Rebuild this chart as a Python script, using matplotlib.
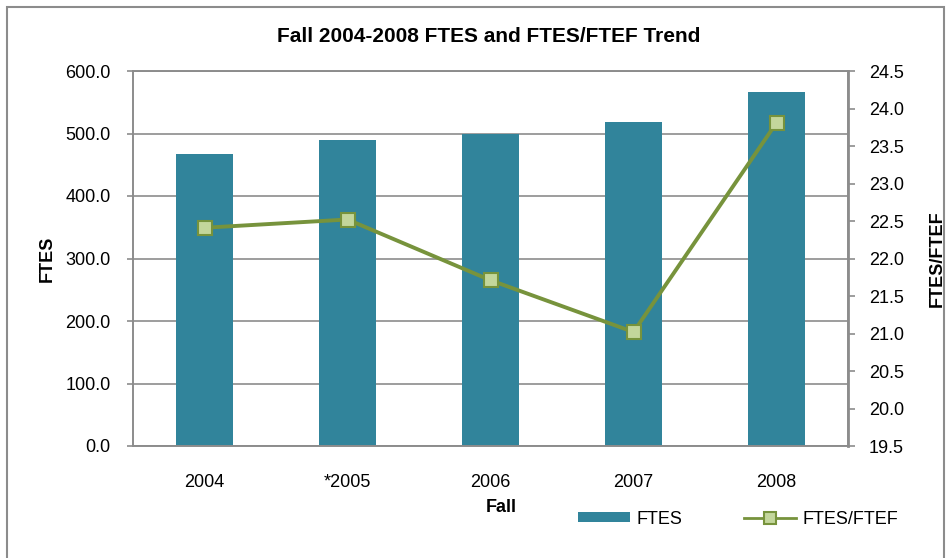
import numpy as np
import matplotlib
matplotlib.use("Agg")
import matplotlib.pyplot as plt
from matplotlib.patches import Rectangle
from matplotlib.lines import Line2D
from matplotlib.patches import Patch

plt.rcParams['font.family'] = ['Liberation Sans', 'DejaVu Sans']

# Datos
years = ['2004', '*2005', '2006', '2007', '2008']
ftes = [467.0, 489.5, 499.7, 518.5, 567.0]
ftes_ftef = [22.41, 22.52, 21.71, 21.02, 23.81]

bar_color = '#31849B'
line_color = '#77933C'
marker_face = '#C3D69B'
grid_color = '#8C8C8C'

fig = plt.figure(figsize=(9.47, 5.58), dpi=100)
W, H = 947, 558
ax = fig.add_axes([133 / W, 1 - 446 / H, (848 - 133) / W, (446 - 71) / H])

x = np.arange(len(years))
ax.bar(x, ftes, width=0.405, color=bar_color, zorder=2)
ax.set_xlim(-0.5, len(years) - 0.5)
ax.set_ylim(0, 600)
ax.set_yticks(np.arange(0, 601, 100))
ax.set_yticklabels([f"{v:.1f}" for v in np.arange(0, 601, 100)])
ax.set_xticks(x)
ax.set_xticklabels(years)
ax.yaxis.grid(True, color=grid_color, linewidth=1.2, zorder=0)
ax.set_axisbelow(True)
ax.tick_params(axis='x', length=0, pad=20, labelsize=13)
ax.tick_params(axis='y', length=4, width=1.2, color=grid_color, labelsize=13, pad=12)
for s in ax.spines.values():
    s.set_color(grid_color)
    s.set_linewidth(1.2)
ax.set_xlabel('Fall', fontsize=13, fontweight='bold')
ax.xaxis.set_label_coords(0.515, -0.14)
ax.set_ylabel('FTES', fontsize=13, fontweight='bold', labelpad=7)

ax2 = ax.twinx()
ax2.plot(x, ftes_ftef, color=line_color, linewidth=2.8, marker='s', markersize=10,
         markerfacecolor=marker_face, markeredgecolor=line_color, markeredgewidth=1.5, zorder=3)
ax2.set_ylim(19.5, 24.5)
ax2.set_yticks(np.arange(19.5, 24.51, 0.5))
ax2.set_yticklabels([f"{v:.1f}" for v in np.arange(19.5, 24.51, 0.5)])
ax2.tick_params(axis='y', length=5, width=1.2, color=grid_color, labelsize=13, pad=10)
for s in ax2.spines.values():
    s.set_color(grid_color)
    s.set_linewidth(1.2)
ax2.spines['right'].set_linewidth(2)
ax2.set_ylabel('FTES/FTEF', fontsize=13, fontweight='bold', rotation=90, labelpad=18)

fig.text(489 / W, 1 - 37 / H, 'Fall 2004-2008 FTES and FTES/FTEF Trend',
         ha='center', va='center', fontsize=15, fontweight='bold')

handles = [Patch(facecolor=bar_color, edgecolor='none'),
           Line2D([0], [0], color=line_color, linewidth=2, marker='s', markersize=8,
                  markerfacecolor=marker_face, markeredgecolor=line_color, markeredgewidth=1.5)]
fig.legend(handles, ['FTES', 'FTES/FTEF'], ncol=2, frameon=False, fontsize=13,
           loc='center left', bbox_to_anchor=(578 / W, 1 - 519 / H),
           handlelength=2.9, handleheight=0.5, columnspacing=3.4, handletextpad=0.35,
           borderaxespad=0, borderpad=0)

# marco exterior
fig.patches.append(Rectangle((7 / W, -0.05), (944 - 7) / W, 1.05 - 7 / H,
                             transform=fig.transFigure, fill=False,
                             edgecolor='#8C8C8C', linewidth=1.5))

fig.savefig('out.png', dpi=100)
